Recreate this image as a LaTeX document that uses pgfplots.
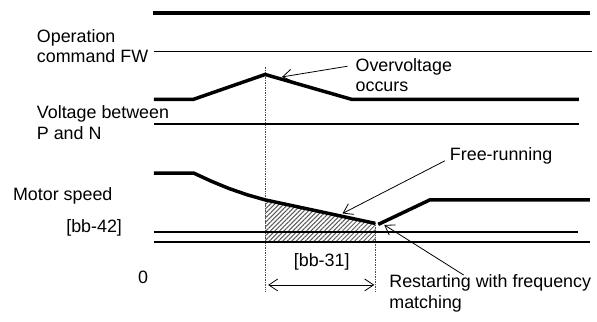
\documentclass[border=0pt]{standalone}
\usepackage{pgfplots}
\pgfplotsset{compat=1.18}
\usepackage{fontspec}
\setmainfont{Liberation Sans}
\usetikzlibrary{patterns.meta,arrows.meta}
\begin{document}
\fontsize{18bp}{20.5bp}\selectfont
\begin{tikzpicture}
\begin{axis}[
  hide axis, scale only axis, width=597bp, height=324bp,
  xmin=0, xmax=597, ymin=0, ymax=324, y dir=reverse, clip=false,
  every node/.style={font=\fontsize{18bp}{20.5bp}\selectfont, inner sep=0pt},
]
\path (rel axis cs:0,0) rectangle (rel axis cs:1,1);
% hatched area
\addplot[draw=none, pattern={Lines[angle=45,distance=3.2bp,line width=1bp]}, pattern color=black!65]
  coordinates {(267,201.3) (378,225) (378,243.7) (267,243.7)} -- cycle;
% dotted verticals
\addplot[black!70, densely dotted, line width=0.7bp] coordinates {(267,67) (267,294)};
\addplot[black!70, densely dotted, line width=0.7bp] coordinates {(378,225) (378,294)};
% operation command FW
\addplot[black, line width=4bp] coordinates {(154,13.3) (594,13.3)};
\addplot[black, line width=1.6bp] coordinates {(155,51.7) (596,51.7)};
% voltage P-N
\addplot[black, line width=3.5bp] coordinates {(155,100) (195,100) (267,75) (354,100) (583,100)};
\addplot[black, line width=1.6bp] coordinates {(155,125) (583,125)};
% motor speed
\addplot[black, line width=3.5bp] coordinates {(155,174.3) (195,174.3) (213,182.6) (231,190) (249,196.2) (267,201.3) (378,225)};
\addplot[black, line width=3.5bp] coordinates {(381,226) (433,201.3) (594,201.3)};
\addplot[black, line width=1.6bp] coordinates {(155,233.7) (582,233.7)};
\addplot[black, line width=1.6bp] coordinates {(155,243.7) (594,243.7)};
% annotations
\draw[line width=0.8bp, -{Straight Barb[length=9bp,width=12bp]}] (axis cs:350,66.7) -- (axis cs:284,77.5);
\draw[line width=0.8bp, -{Straight Barb[length=9bp,width=12bp]}] (axis cs:448,162) -- (axis cs:345,215);
\draw[line width=0.8bp, -{Straight Barb[length=9bp,width=12bp]}] (axis cs:467,277) -- (axis cs:387,226.5);
\draw[line width=0.8bp, {Straight Barb[length=9bp,width=12bp]}-{Straight Barb[length=9bp,width=12bp]}] (axis cs:270,287) -- (axis cs:377,287);
% texts
\node[anchor=west, align=left] at (axis cs:31,46.7) {Operation\\command FW};
\node[anchor=west, align=left] at (axis cs:31,123.5) {Voltage between\\P and N};
\node[anchor=west, align=left] at (axis cs:352,75.5) {Overvoltage\\occurs};
\node[anchor=west] at (axis cs:447,157) {Free-running};
\node[anchor=west] at (axis cs:7,197) {Motor speed};
\node[anchor=east] at (axis cs:129,230) {[bb-42]};
\node at (axis cs:144,279) {0};
\node at (axis cs:324,264) {[bb-31]};
\node[anchor=west, align=left] at (axis cs:386,295.5) {Restarting with frequency\\matching};
\end{axis}
\end{tikzpicture}
\end{document}
